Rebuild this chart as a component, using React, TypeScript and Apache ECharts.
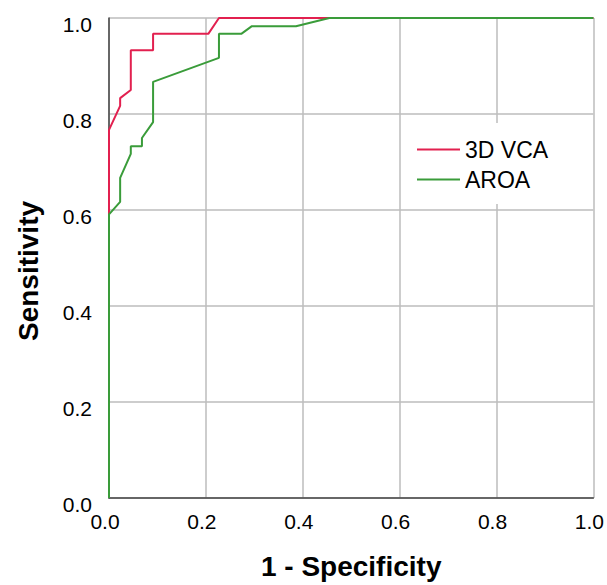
import React, { useEffect, useRef } from "react";
import * as echarts from "echarts";

const seriesNames = ["3D VCA", "AROA"];
const vcaFpr = [0, 0, 0.023, 0.023, 0.045, 0.045, 0.091, 0.091, 0.205, 0.227, 1];
const vcaTpr = [0, 0.767, 0.817, 0.833, 0.85, 0.933, 0.933, 0.967, 0.967, 1, 1];
const aroaFpr = [0, 0, 0.023, 0.023, 0.045, 0.045, 0.068, 0.068, 0.091, 0.091, 0.227, 0.227, 0.273, 0.295, 0.386, 0.455, 1];
const aroaTpr = [0, 0.591, 0.617, 0.667, 0.717, 0.733, 0.733, 0.75, 0.783, 0.867, 0.917, 0.967, 0.967, 0.983, 0.983, 1, 1];
const colors = ["#e2204f", "#3a9c3a"];
const xTitle = "1 - Specificity";
const yTitle = "Sensitivity";

const FONT = '"Liberation Sans", Arial, Helvetica, sans-serif';

export default function App() {
  const ref = useRef<HTMLDivElement>(null);
  useEffect(() => {
    if (!ref.current) return;
    const chart = echarts.init(ref.current, undefined, { renderer: "svg" });
    const toPairs = (xs: number[], ys: number[]) => xs.map((x, i) => [x, ys[i]]);
    chart.setOption({
      animation: false,
      backgroundColor: "#ffffff",
      grid: { left: 109, right: 13, top: 18, bottom: 83 },
      legend: {
        orient: "vertical",
        left: 405,
        top: 123,
        padding: [15, 40, 13, 12],
        backgroundColor: "#ffffff",
        icon: "rect",
        itemWidth: 43,
        itemHeight: 2,
        itemGap: 7,
        data: seriesNames,
        textStyle: { fontFamily: FONT, fontSize: 23, color: "#000" },
      },
      xAxis: {
        type: "value",
        min: 0,
        max: 1,
        interval: 0.2,
        name: xTitle,
        nameLocation: "middle",
        nameGap: 54,
        nameTextStyle: { fontFamily: FONT, fontSize: 28, fontWeight: "bold", color: "#000" },
        axisLine: { show: true, lineStyle: { color: "#444", width: 1.5 } },
        axisTick: { show: false },
        axisLabel: {
          fontFamily: FONT,
          fontSize: 21,
          color: "#000",
          margin: 13,
          padding: [0, 8, 0, 0],
          formatter: (v: number) => v.toFixed(1),
        },
        splitLine: { show: true, lineStyle: { color: "#bdbdbd", width: 1.5 } },
      },
      yAxis: {
        type: "value",
        min: 0,
        max: 1,
        interval: 0.2,
        name: yTitle,
        nameLocation: "middle",
        nameRotate: 90,
        nameGap: 67,
        nameTextStyle: {
          fontFamily: FONT,
          fontSize: 28,
          fontWeight: "bold",
          color: "#000",
          padding: [0, 26, 0, 0],
        },
        axisLine: { show: true, lineStyle: { color: "#444", width: 1.5 } },
        axisTick: { show: false },
        axisLabel: {
          fontFamily: FONT,
          fontSize: 21,
          color: "#000",
          margin: 17,
          verticalAlign: "top",
          lineHeight: 13,
          formatter: (v: number) => v.toFixed(1),
        },
        splitLine: { show: true, lineStyle: { color: "#bdbdbd", width: 1.5 } },
      },
      series: [
        {
          name: seriesNames[0],
          type: "line",
          data: toPairs(vcaFpr, vcaTpr),
          symbol: "none",
          color: colors[0],
          lineStyle: { color: colors[0], width: 2 },
          z: 3,
        },
        {
          name: seriesNames[1],
          type: "line",
          data: toPairs(aroaFpr, aroaTpr),
          symbol: "none",
          color: colors[1],
          lineStyle: { color: colors[1], width: 2 },
          z: 4,
        },
      ],
    });
    return () => chart.dispose();
  }, []);
  return (
    <div
      ref={ref}
      style={{ position: "fixed", left: 0, top: 0, width: 607, height: 585 }}
    />
  );
}
